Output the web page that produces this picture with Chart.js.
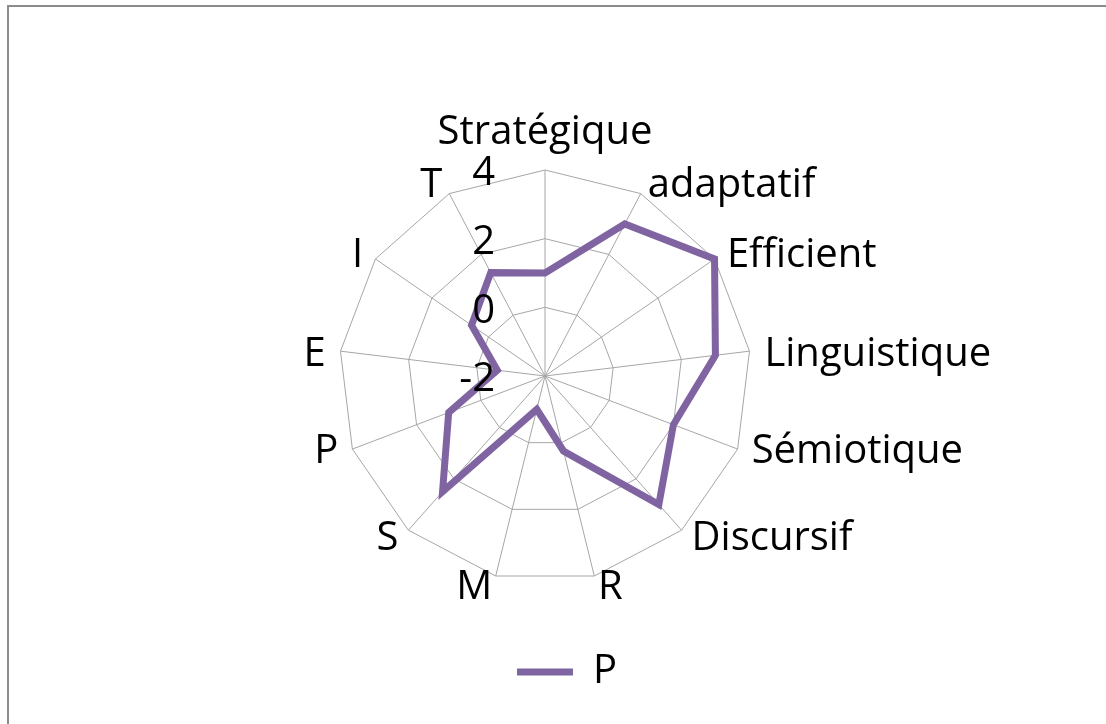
<!DOCTYPE html>
<html>
<head>
<meta charset="utf-8">
<script src="https://cdn.jsdelivr.net/npm/chart.js@4.4.0/dist/chart.umd.min.js"></script>
<style>
  body { margin: 0; background: #fff; }
  #frame {
    position: absolute; left: 7px; top: 5px; width: 1200px; height: 800px;
    border-left: 2px solid #8c8c8c; border-top: 2px solid #8c8c8c;
  }
  #radar { position: absolute; left: 0; top: 0; }
</style>
</head>
<body>
<div id="frame"></div>
<canvas id="radar" width="1106" height="724"></canvas>
<script>
// radar axes, clockwise from the top
const axes = ["Stratégique", "adaptatif", "Efficient", "Linguistique", "Sémiotique", "Discursif", "R", "M", "S", "P", "E", "I", "T"];
const scoresP = [1, 3, 4, 3, 2, 3, 0.25, -1, 2.5, 1, -0.6, 0.6, 1.4];
const tickValues = [-2, 0, 2, 4];

const FONT = "'Open Sans', sans-serif";
const TEXT_SIZE = 40;

// spoke names and tick numbers: drawn here so they sit centred on their spoke
const radarText = {
  id: "radarText",
  afterDatasetsDraw(chart) {
    const scale = chart.scales.r;
    const ctx = chart.ctx;
    ctx.save();
    ctx.fillStyle = "#000";
    ctx.font = TEXT_SIZE + "px " + FONT;
    ctx.textBaseline = "middle";

    // tick numbers, left of the top spoke
    ctx.textAlign = "right";
    scale.ticks.forEach((tick) => {
      const y = scale.yCenter - scale.getDistanceFromCenterForValue(tick.value);
      ctx.fillText(tick.label, scale.xCenter - 50, y + 4);
    });

    // spoke names
    axes.forEach((name, i) => {
      const pos = scale.getPointPosition(i, scale.drawingArea + 15);
      const deg = Math.round(i * 360 / axes.length);
      if (deg === 0) {
        ctx.textAlign = "center";
        ctx.fillText(name, pos.x, pos.y - 22);
      } else {
        const upper = deg < 90 || deg > 270;
        ctx.textAlign = deg < 180 ? "left" : "right";
        ctx.fillText(name, pos.x, pos.y + (upper ? 5 : -3));
      }
    });
    ctx.restore();
  },
};

new Chart(document.getElementById("radar"), {
  type: "radar",
  data: {
    labels: axes,
    datasets: [
      {
        label: "P",
        data: scoresP,
        borderColor: "#8064a2",
        backgroundColor: "#8064a2",
        borderWidth: 7,
        borderCapStyle: "round",
        pointRadius: 0,
        pointHoverRadius: 0,
        fill: false,
      },
    ],
  },
  options: {
    responsive: false,
    animation: false,
    devicePixelRatio: 1,
    layout: {
      padding: { left: 361, right: 333, top: 110, bottom: 22 },
    },
    plugins: {
      legend: {
        position: "bottom",
        labels: {
          usePointStyle: true,
          pointStyle: "line",
          pointStyleWidth: 56,
          color: "#000",
          padding: 10,
          font: { family: FONT, size: TEXT_SIZE },
        },
      },
      tooltip: { enabled: false },
    },
    scales: {
      r: {
        min: tickValues[0],
        max: tickValues[tickValues.length - 1],
        ticks: { stepSize: 2, display: false },
        pointLabels: { display: false },
        grid: { color: "#a6a6a6", lineWidth: 1 },
        angleLines: { color: "#a6a6a6", lineWidth: 1 },
        // legend is centred a little right of the radar
        afterFit: (scale) => {
          scale.xCenter -= 22;
        },
      },
    },
  },
  plugins: [radarText],
});
</script>
</body>
</html>
